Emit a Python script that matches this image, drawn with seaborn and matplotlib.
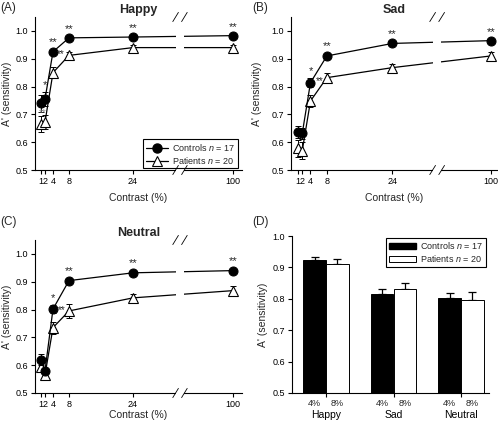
import pandas as pd
import matplotlib.pyplot as plt
import seaborn as sns
from matplotlib.patches import Rectangle, Patch
from matplotlib.lines import Line2D

sns.set_style("ticks")
plt.rcParams['font.family'] = ['Liberation Sans', 'DejaVu Sans']
plt.rcParams['mathtext.fontset'] = 'custom'
plt.rcParams['mathtext.it'] = 'Liberation Sans:italic'
plt.rcParams['mathtext.rm'] = 'Liberation Sans'

# contrast levels (%)
contrast = [1, 2, 4, 8, 24, 100]
contrast_labels = ['1', '2', '4', '8', '24', '100']

# Happy
happy_ctrl = [0.740, 0.755, 0.925, 0.975, 0.978, 0.983]
happy_ctrl_err = [0.030, 0.025, 0.008, 0.005, 0.005, 0.004]
happy_pat = [0.665, 0.672, 0.850, 0.912, 0.940, 0.940]
happy_pat_err = [0.028, 0.025, 0.020, 0.012, 0.010, 0.010]
happy_sig = ['', '*', '**', '**', '**', '**']

# Sad
sad_ctrl = [0.637, 0.632, 0.814, 0.910, 0.955, 0.965]
sad_ctrl_err = [0.022, 0.020, 0.015, 0.010, 0.006, 0.006]
sad_pat = [0.578, 0.570, 0.748, 0.832, 0.868, 0.910]
sad_pat_err = [0.030, 0.030, 0.022, 0.016, 0.013, 0.013]
sad_sig = ['', '', '*', '**', '**', '**']

# Neutral
neu_ctrl = [0.620, 0.580, 0.802, 0.904, 0.932, 0.940]
neu_ctrl_err = [0.020, 0.010, 0.015, 0.008, 0.010, 0.007]
neu_pat = [0.595, 0.565, 0.735, 0.795, 0.842, 0.868]
neu_pat_err = [0.020, 0.015, 0.022, 0.025, 0.015, 0.017]
neu_sig = ['', '', '*', '**', '**', '**']

# Panel D (4% / 8% bars)
emotions = ['Happy', 'Sad', 'Neutral']
bar_ctrl = [0.925, 0.815, 0.802]
bar_ctrl_err = [0.008, 0.015, 0.016]
bar_pat = [0.912, 0.832, 0.797]
bar_pat_err = [0.014, 0.018, 0.025]

ctrl_label = 'Controls $\\it{n}$ = 17'
pat_label = 'Patients $\\it{n}$ = 20'

W, H = 498, 422
fig = plt.figure(figsize=(W / 100, H / 100), dpi=100)


def px_axes(left, top, right, bottom):
    return fig.add_axes([left / W, 1 - bottom / H, (right - left) / W, (bottom - top) / H])


def style_axes(ax):
    sns.despine(ax=ax)
    for s in ['left', 'bottom']:
        ax.spines[s].set_linewidth(0.8)
        ax.spines[s].set_color('black')
    ax.tick_params(labelsize=6.5, length=3, width=0.8, pad=2, colors='black')


def line_panel(ax, ctrl, ctrl_err, pat, pat_err, sig, far, brk, xlim, title, between,
               xpad=5):
    pos = [c if c <= 24 else far for c in contrast]
    ax.errorbar(pos, pat, yerr=pat_err, fmt='none', ecolor='black',
                elinewidth=0.7, capsize=2.5, capthick=0.7, zorder=2)
    sns.lineplot(x=pos, y=pat, color='black', linewidth=0.9, marker='^',
                 markersize=7.5, markerfacecolor='white', markeredgecolor='black',
                 markeredgewidth=0.8, sort=False, ax=ax, zorder=2)
    ax.errorbar(pos, ctrl, yerr=ctrl_err, fmt='none', ecolor='black',
                elinewidth=0.7, capsize=2.5, capthick=0.7, zorder=3)
    sns.lineplot(x=pos, y=ctrl, color='black', linewidth=0.9, marker='o',
                 markersize=6.5, markerfacecolor='black', markeredgecolor='black',
                 sort=False, ax=ax, zorder=3)
    for p, c, e, s in zip(pos, ctrl, ctrl_err, sig):
        if s:
            ax.text(p, c + e + 0.008, s, ha='center', va='bottom', fontsize=8)
    ax.text(between[0], between[1], '**', ha='center', va='center', fontsize=7)

    ax.set_xlim(*xlim)
    ax.set_ylim(0.5, 1.05)
    ax.set_yticks([0.5, 0.6, 0.7, 0.8, 0.9, 1.0])
    ax.set_yticklabels(['0.5', '0.6', '0.7', '0.8', '0.9', '1.0'])
    ax.set_xticks(pos)
    ax.set_xticklabels(contrast_labels)
    style_axes(ax)
    ax.set_xlabel('Contrast (%)', fontsize=7.5, labelpad=xpad)
    ax.set_ylabel("A' (sensitivity)", fontsize=7.5)
    ax.set_title(title, fontsize=9, fontweight='bold', pad=3)

    # axis break
    tr = ax.get_xaxis_transform()
    ax.add_patch(Rectangle((brk - 1.0, -0.02), 2.0, 1.05, transform=tr,
                           facecolor='white', edgecolor='none', clip_on=False, zorder=5))
    for yb in (0.0, 1.0):
        for xb in (brk - 1.1, brk + 1.1):
            ax.plot([xb - 0.7, xb + 0.7], [yb - 0.03, yb + 0.03], transform=tr,
                    color='black', linewidth=0.6, clip_on=False, zorder=6)


axA = px_axes(35, 17, 242, 170)
line_panel(axA, happy_ctrl, happy_ctrl_err, happy_pat, happy_pat_err, happy_sig,
           49, 35.75, (-0.5, 51.25), 'Happy', (6.0, 0.915))
axA.text(1.5, 0.705, '**', ha='center', va='center', fontsize=7, color='0.55')
axA.yaxis.set_label_coords(-0.11, 0.5)
legA = axA.legend(handles=[
    Line2D([], [], color='black', marker='o', markersize=6.5, linewidth=0.9, label=ctrl_label),
    Line2D([], [], color='black', marker='^', markersize=7.5, markerfacecolor='white',
           markeredgewidth=0.8, linewidth=0.9, label=pat_label)],
    loc='lower right', fontsize=6.5, frameon=True, fancybox=False, edgecolor='black',
    framealpha=1, handlelength=2.4, handletextpad=0.5, borderpad=0.3, labelspacing=0.2,
    borderaxespad=0, bbox_to_anchor=(0.98, 0.01))
legA.get_frame().set_linewidth(0.8)

axB = px_axes(291, 17, 497, 170)
line_panel(axB, sad_ctrl, sad_ctrl_err, sad_pat, sad_pat_err, sad_sig,
           48, 34.9, (-0.75, 49.5), 'Sad', (6.3, 0.82))
axB.yaxis.set_label_coords(-0.14, 0.5)

axC = px_axes(35, 240, 242, 393)
line_panel(axC, neu_ctrl, neu_ctrl_err, neu_pat, neu_pat_err, neu_sig,
           49, 35.75, (-0.5, 51.25), 'Neutral', (6.1, 0.798), xpad=0.5)
axC.yaxis.set_label_coords(-0.11, 0.5)

# Panel D
axD = px_axes(292, 236, 489, 393)
df = pd.DataFrame({
    'emotion': emotions * 2,
    'group': ['Controls'] * 3 + ['Patients'] * 3,
    'value': bar_ctrl + bar_pat,
})
sns.barplot(data=df, x='emotion', y='value', hue='group', order=emotions,
            hue_order=['Controls', 'Patients'], palette=['black', 'white'],
            edgecolor='black', linewidth=0.7, width=0.68, gap=0.02,
            errorbar=None, legend=False, ax=axD)
for cont, errs in zip(axD.containers, [bar_ctrl_err, bar_pat_err]):
    xs = [b.get_x() + b.get_width() / 2 for b in cont]
    ys = [b.get_height() for b in cont]
    axD.errorbar(xs, ys, yerr=[[0] * len(errs), errs], fmt='none', ecolor='black',
                 elinewidth=0.9, capsize=3, capthick=0.9, zorder=1)
    for b in cont:
        b.set_zorder(2)
axD.set_ylim(0.5, 1.0)
axD.set_xlim(-0.504, 2.415)
axD.set_yticks([0.5, 0.6, 0.7, 0.8, 0.9, 1.0])
axD.set_yticklabels(['0.5', '0.6', '0.7', '0.8', '0.9', '1.0'])
style_axes(axD)
axD.set_xticks(range(3))
axD.set_xticklabels(emotions, fontsize=7.5)
axD.tick_params(axis='x', which='major', pad=9)
axD.set_xticks([i + d for i in range(3) for d in (-0.17, 0.17)], minor=True)
axD.set_xticklabels(['4%', '8%'] * 3, minor=True, fontsize=6.5)
axD.tick_params(axis='x', which='minor', length=0, pad=4)
axD.set_xlabel('')
axD.set_ylabel("A' (sensitivity)", fontsize=7.5)
axD.yaxis.set_label_coords(-0.12, 0.5)
legD = axD.legend(handles=[
    Patch(facecolor='black', edgecolor='black', label=ctrl_label),
    Patch(facecolor='white', edgecolor='black', linewidth=0.7, label=pat_label)],
    loc='upper right', fontsize=6.5, frameon=True, fancybox=False, edgecolor='black',
    framealpha=1, handlelength=3.0, handleheight=0.7, handletextpad=0.5,
    borderpad=0.3, labelspacing=0.2, borderaxespad=0, bbox_to_anchor=(0.985, 0.99))
legD.get_frame().set_linewidth(0.8)

for lbl, x, y in [('(A)', 0, 8), ('(B)', 252, 8), ('(C)', 0, 222), ('(D)', 252, 222)]:
    fig.text(x / W, 1 - y / H, lbl, fontsize=8.5, va='center', ha='left')

fig.savefig('out.png', dpi=100)
